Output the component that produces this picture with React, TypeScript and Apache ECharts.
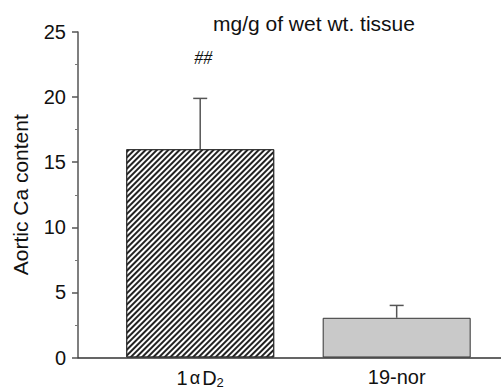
import React, { useEffect, useRef } from "react";
import * as echarts from "echarts";

const categories = ["1αD2", "19-nor"];
const positions = [1, 2];
const means = [16.0, 3.05];
const errorTops = [19.9, 4.0];
const annotations = ["##", ""];
const annotationLevel = 23.0;
const yTicks = [0, 5, 10, 15, 20, 25];

export default function App() {
  const ref = useRef<HTMLDivElement>(null);
  useEffect(() => {
    if (!ref.current) return;
    const chart = echarts.init(ref.current, undefined, { renderer: "svg" });
    const font = "'Liberation Sans', Arial, Helvetica, sans-serif";
    const barData = positions.map((p, i) => [p, means[i]]);
    const errData = positions.map((p, i) => [p, means[i], errorTops[i]]);
    const annData = positions.map((p, i) => [p, annotationLevel, i]);
    chart.setOption({
      animation: false,
      backgroundColor: "#ffffff",
      title: {
        text: "mg/g of wet wt. tissue",
        left: 208,
        top: 8,
        textStyle: { fontFamily: font, fontSize: 21, fontWeight: "normal", color: "#111" },
      },
      grid: { left: 78, right: 0, top: 32, bottom: 30.5, containLabel: false, outerBoundsMode: "none" },
      xAxis: {
        type: "value",
        min: 0.378,
        max: 2.531,
        splitLine: { show: false },
        axisTick: { show: false },
        axisLine: { show: true, lineStyle: { color: "#333", width: 1.5 } },
        axisLabel: {
          margin: 9,
          fontFamily: font,
          fontSize: 20,
          color: "#111",
          showMinLabel: false,
          showMaxLabel: false,
          formatter: (v: number) => {
            if (Math.abs(v - positions[0]) < 1e-6) return "{a|1}{g|α}{a|D}{s|2}";
            if (Math.abs(v - positions[1]) < 1e-6) return categories[1];
            return "";
          },
          rich: {
            a: { fontFamily: font, fontSize: 20, color: "#111" },
            g: { fontFamily: font, fontSize: 18, color: "#111", padding: [0, 2, 0, 2] },
            s: { fontFamily: font, fontSize: 13, color: "#111", padding: [9, 0, 0, 0] },
          },
        },
      },
      yAxis: {
        type: "value",
        min: yTicks[0],
        max: yTicks[yTicks.length - 1],
        interval: 5,
        name: "Aortic Ca content",
        nameLocation: "middle",
        nameGap: 47,
        nameTextStyle: { fontFamily: font, fontSize: 21, color: "#111" },
        splitLine: { show: false },
        axisLine: { show: true, lineStyle: { color: "#555", width: 1.5 } },
        axisTick: { show: true, length: 6, lineStyle: { color: "#555", width: 1.5 } },
        minorTick: { show: true, splitNumber: 2, length: 3, lineStyle: { color: "#777", width: 1 } },
        axisLabel: { margin: 12, fontFamily: font, fontSize: 20, color: "#111" },
      },
      series: [
        {
          type: "bar",
          barWidth: 148,
          data: [
            {
              value: barData[0],
              itemStyle: {
                color: "#ffffff",
                borderColor: "#333",
                borderWidth: 1,
                decal: {
                  symbol: "rect",
                  symbolSize: 1,
                  symbolKeepAspect: false,
                  color: "#222222",
                  dashArrayX: [1, 0],
                  dashArrayY: [1.9, 1.3],
                  rotation: -Math.PI / 4,
                },
              },
            },
            {
              value: barData[1],
              itemStyle: {
                color: "#c9c9c9",
                borderColor: "#333",
                borderWidth: 1,
              },
            },
          ],
          z: 2,
        },
        {
          type: "custom",
          z: 3,
          data: errData,
          renderItem: (params: any, api: any) => {
            const x = api.value(0);
            const lo = api.coord([x, api.value(1)]);
            const hi = api.coord([x, api.value(2)]);
            const hw = 7;
            const style = { stroke: "#555", lineWidth: 1.5 };
            return {
              type: "group",
              children: [
                { type: "line", shape: { x1: lo[0], y1: lo[1], x2: hi[0], y2: hi[1] }, style },
                { type: "line", shape: { x1: hi[0] - hw, y1: hi[1], x2: hi[0] + hw, y2: hi[1] }, style },
              ],
            };
          },
        },
        {
          type: "custom",
          z: 3,
          data: annData,
          renderItem: (params: any, api: any) => {
            const p = api.coord([api.value(0), api.value(1)]);
            const txt = annotations[api.value(2)];
            return {
              type: "text",
              x: p[0] + 3,
              y: p[1],
              style: {
                text: txt,
                fontFamily: "'Liberation Serif', 'Times New Roman', serif",
                fontStyle: "italic",
                fontSize: 18,
                fill: "#111",
                align: "center",
                verticalAlign: "middle",
              },
            };
          },
        },
      ],
    });
    return () => chart.dispose();
  }, []);
  return <div ref={ref} style={{ position: "fixed", left: 0, top: 0, width: 501, height: 388 }} />;
}
